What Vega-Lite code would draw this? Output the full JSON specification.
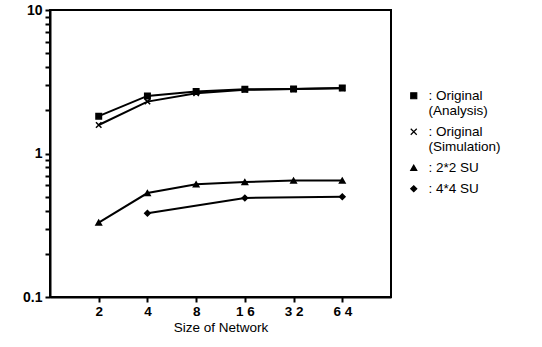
{
  "$schema": "https://vega.github.io/schema/vega-lite/v6.json",
  "width": 341,
  "height": 287,
  "autosize": {"type": "none"},
  "padding": {"left": 50, "top": 10, "right": 151, "bottom": 50},
  "background": "white",
  "config": {
    "font": "Liberation Sans",
    "view": {"stroke": "black", "strokeWidth": 2},
    "axis": {"domainColor": "black", "domainWidth": 2, "ticks": true, "tickColor": "black", "tickWidth": 2, "tickOpacity": 1, "labelColor": "black", "titleColor": "black", "grid": false}
  },
  "data": {
    "values": [
      {"series": "Original (Analysis)", "size": 2, "value": 1.82},
      {"series": "Original (Analysis)", "size": 4, "value": 2.52},
      {"series": "Original (Analysis)", "size": 8, "value": 2.7},
      {"series": "Original (Analysis)", "size": 16, "value": 2.8},
      {"series": "Original (Analysis)", "size": 32, "value": 2.82},
      {"series": "Original (Analysis)", "size": 64, "value": 2.86},
      {"series": "Original (Simulation)", "size": 2, "value": 1.58},
      {"series": "Original (Simulation)", "size": 4, "value": 2.3},
      {"series": "Original (Simulation)", "size": 8, "value": 2.63},
      {"series": "Original (Simulation)", "size": 16, "value": 2.78},
      {"series": "Original (Simulation)", "size": 32, "value": 2.81},
      {"series": "Original (Simulation)", "size": 64, "value": 2.85},
      {"series": "2*2 SU", "size": 2, "value": 0.33},
      {"series": "2*2 SU", "size": 4, "value": 0.53},
      {"series": "2*2 SU", "size": 8, "value": 0.61},
      {"series": "2*2 SU", "size": 16, "value": 0.632},
      {"series": "2*2 SU", "size": 32, "value": 0.648},
      {"series": "2*2 SU", "size": 64, "value": 0.648},
      {"series": "4*4 SU", "size": 4, "value": 0.383},
      {"series": "4*4 SU", "size": 16, "value": 0.49},
      {"series": "4*4 SU", "size": 64, "value": 0.5}
    ]
  },
  "encoding": {
    "x": {
      "field": "size", "type": "quantitative",
      "scale": {"type": "log", "base": 2, "domain": [1, 128]},
      "axis": {"values": [2, 4, 8, 16, 32, 64], "title": "Size of Network", "titleFontSize": 13.5, "titleFontWeight": "normal", "titlePadding": 3, "labelFontSize": 13.5, "labelFontWeight": "bold", "tickSize": 5, "labelPadding": 2, "labelExpr": "datum.value == 16 ? '1 6' : datum.value == 32 ? '3 2' : datum.value == 64 ? '6 4' : datum.label"}
    },
    "y": {
      "field": "value", "type": "quantitative",
      "scale": {"type": "log", "domain": [0.1, 10]},
      "axis": {
        "values": [0.1, 0.2, 0.3, 0.4, 0.5, 0.6, 0.7, 0.8, 0.9, 1, 2, 3, 4, 5, 6, 7, 8, 9, 10],
        "title": null,
        "labelFontSize": 14, "labelFontWeight": "bold",
        "labelExpr": "datum.value == 10 ? '10' : datum.value == 1 ? '1' : datum.value == 0.1 ? '0.1' : ''",
        "tickSize": 5,
        "labelPadding": 3
      }
    }
  },
  "layer": [
    {
      "mark": {"type": "line", "color": "black", "strokeWidth": 2},
      "encoding": {"detail": {"field": "series"}}
    },
    {
      "mark": {"type": "point", "fill": "black", "stroke": "black", "strokeWidth": 1.5, "size": 30, "opacity": 1},
      "encoding": {
        "shape": {
          "field": "series", "type": "nominal",
          "scale": {
            "domain": ["Original (Analysis)", "Original (Simulation)", "2*2 SU", "4*4 SU"],
            "range": ["square", "M-1,-1L1,1M-1,1L1,-1", "triangle-up", "diamond"]
          },
          "legend": {
            "orient": "none", "legendX": 357, "legendY": 79,
            "title": null,
            "labelFontSize": 13.5, "labelFont": "Liberation Sans", "labelColor": "black",
            "symbolSize": 36, "symbolStrokeWidth": 1.2,
            "rowPadding": 6, "labelOffset": 8, "labelLimit": 200,
            "labelExpr": "datum.label == 'Original (Analysis)' ? [': Original', '\u00a0\u00a0(Analysis)'] : datum.label == 'Original (Simulation)' ? [': Original', '\u00a0\u00a0(Simulation)'] : ': ' + datum.label",
            "encode": {
              "symbols": {
                "update": {
                  "fill": {"value": "black"},
                  "stroke": {"value": "black"},
                  "strokeWidth": {"value": 1.2},
                  "opacity": {"value": 1}
                }
              }
            }
          }
        }
      }
    }
  ]
}
